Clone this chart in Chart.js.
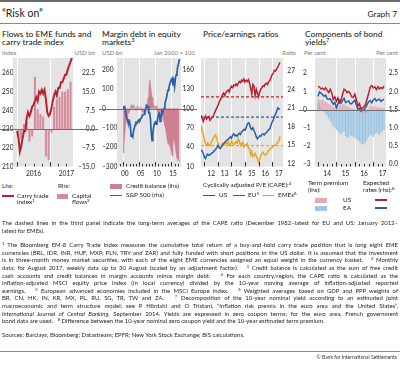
<!DOCTYPE html>
<html>
<head>
<meta charset="utf-8">
<title>Risk on</title>
<script src="https://cdn.jsdelivr.net/npm/chart.js@4.4.1/dist/chart.umd.min.js"></script>
<style>
  html, body { margin: 0; padding: 0; }
  body { position: relative; width: 400px; height: 373px; overflow: hidden; background: #fff;
         font-family: Lato, 'Open Sans', sans-serif; color: #1e1e1e; }
  .t { position: absolute; white-space: nowrap; }
  .ttl { position: absolute; font-size: 8.4px; line-height: 8px; white-space: nowrap; color: #111; }
  .unit { position: absolute; font-size: 6px; line-height: 7px; color: #7a7a7a; white-space: nowrap; }
  .lg { position: absolute; font-size: 6.4px; line-height: 6.7px; white-space: nowrap; color: #222; }
  .sw { position: absolute; }
  canvas { position: absolute; }
  .rule { position: absolute; left: 0; width: 400px; }
  .notes { position: absolute; left: 2px; width: 396px; font-size: 5.95px; line-height: 7.6px; color: #1e1e1e; }
  .notes div { text-align: justify; text-align-last: justify; height: 7.6px; overflow: hidden; }
  .notes div.last { text-align-last: left; }
  sup { font-size: 70%; line-height: 0; vertical-align: 0.45em; }
</style>
</head>
<body>

<div class="rule" style="top:0;height:2px;background:#6b6b6b"></div>
<div class="t" style="left:2px;top:7px;font-size:10.5px;color:#222">“Risk on”</div>
<div class="t" style="right:3px;top:9px;font-size:8.4px;color:#222">Graph 7</div>
<div class="rule" style="top:23px;height:1px;background:#8a8a8a"></div>

<!-- panel titles -->
<div class="ttl" style="left:2px;top:29.5px">Flows to EME funds and<br>carry trade index</div>
<div class="ttl" style="left:102px;top:29.5px">Margin debt in equity<br>markets<sup>3</sup></div>
<div class="ttl" style="left:203px;top:29.5px">Price/earnings ratios</div>
<div class="ttl" style="left:305px;top:29.5px">Components of bond<br>yields<sup>7</sup></div>

<!-- axis units -->
<div class="unit" style="left:2px;top:48.5px">Index</div>
<div class="unit" style="right:305px;top:48.5px">USD bn</div>
<div class="unit" style="left:102px;top:48.5px">USD bn</div>
<div class="unit" style="right:205px;top:48.5px">Jan 2000 = 100</div>
<div class="unit" style="right:104px;top:48.5px">Ratio</div>
<div class="unit" style="left:304px;top:48.5px">Per cent</div>
<div class="unit" style="right:2px;top:48.5px">Per cent</div>

<canvas id="p1" width="98" height="132" style="left:0;top:48px;width:98px;height:132px"></canvas>
<canvas id="p2" width="98" height="132" style="left:99px;top:48px;width:98px;height:132px"></canvas>
<canvas id="p3" width="98" height="132" style="left:199px;top:48px;width:98px;height:132px"></canvas>
<canvas id="p4" width="101" height="132" style="left:299px;top:48px;width:101px;height:132px"></canvas>

<!-- legends -->
<div class="lg" style="left:2px;top:183.3px">Lhs:</div>
<div class="lg" style="left:58px;top:183.3px">Rhs:</div>
<div class="sw" style="left:2px;top:195.2px;width:12px;height:1.6px;background:#b5232e"></div>
<div class="lg" style="left:17px;top:192.6px">Carry trade<br>index<sup>1</sup></div>
<div class="sw" style="left:57px;top:193.5px;width:11px;height:5px;background:#d78a9c"></div>
<div class="lg" style="left:72px;top:192.6px">Capital<br>flows<sup>2</sup></div>

<div class="sw" style="left:110px;top:183.5px;width:12px;height:5px;background:#cf7f92"></div>
<div class="lg" style="left:126px;top:182.6px">Credit balance (lhs)</div>
<div class="sw" style="left:110px;top:194.7px;width:12px;height:1.6px;background:#2a5ea8"></div>
<div class="lg" style="left:126px;top:192.1px">S&amp;P 500 (rhs)</div>

<div class="lg" style="left:203px;top:182.1px">Cyclically adjusted P/E (CAPE):<sup>4</sup></div>
<div class="sw" style="left:203px;top:194.7px;width:12px;height:1.6px;background:#b5232e"></div>
<div class="lg" style="left:219px;top:192.1px">US</div>
<div class="sw" style="left:233px;top:194.7px;width:12px;height:1.6px;background:#2a5ea8"></div>
<div class="lg" style="left:248px;top:192.1px">EU<sup>5</sup></div>
<div class="sw" style="left:262px;top:194.7px;width:12px;height:1.6px;background:#eba420"></div>
<div class="lg" style="left:278px;top:192.1px">EMEs<sup>6</sup></div>

<div class="lg" style="left:308px;top:180.3px">Term premium<br>(lhs):</div>
<div class="lg" style="left:363px;top:180.3px">Expected<br>rates (rhs):<sup>8</sup></div>
<div class="sw" style="left:315px;top:197.5px;width:12px;height:5px;background:#e6a9b8"></div>
<div class="lg" style="left:343px;top:196.6px">US</div>
<div class="sw" style="left:375px;top:199.2px;width:12px;height:1.6px;background:#b5232e"></div>
<div class="sw" style="left:315px;top:205.5px;width:12px;height:5px;background:#9cc8ea"></div>
<div class="lg" style="left:343px;top:204.8px">EA</div>
<div class="sw" style="left:375px;top:207.4px;width:12px;height:1.6px;background:#2a5ea8"></div>

<!-- notes -->
<div class="notes" style="top:219.2px">
  <div>The dashed lines in the third panel indicate the long-term averages of the CAPE ratio (December 1982–latest for EU and US; January 2012–</div>
  <div class="last">latest for EMEs).</div>
</div>
<div class="notes" style="top:241.2px">
  <div><sup>1</sup> The Bloomberg EM-8 Carry Trade Index measures the cumulative total return of a buy-and-hold carry trade position that is long eight EME</div>
  <div>currencies (BRL, IDR, INR, HUF, MXP, PLN, TRY and ZAR) and fully funded with short positions in the US dollar. It is assumed that the investment</div>
  <div>is in three-month money market securities, with each of the eight EME currencies assigned an equal weight in the currency basket. &nbsp; <sup>2</sup> Monthly</div>
  <div>data; for August 2017, weekly data up to 30 August (scaled by an adjustment factor). &nbsp; <sup>3</sup> Credit balance is calculated as the sum of free credit</div>
  <div>cash accounts and credit balances in margin accounts minus margin debt. &nbsp; <sup>4</sup> For each country/region, the CAPE ratio is calculated as the</div>
  <div>inflation-adjusted MSCI equity price index (in local currency) divided by the 10-year moving average of inflation-adjusted reported</div>
  <div>earnings. &nbsp; <sup>5</sup> European advanced economies included in the MSCI Europe index. &nbsp; <sup>6</sup> Weighted averages based on GDP and PPP weights of</div>
  <div>BR, CN, HK, IN, KR, MX, PL, RU, SG, TR, TW and ZA. &nbsp; <sup>7</sup> Decomposition of the 10-year nominal yield according to an estimated joint</div>
  <div>macroeconomic and term structure model; see P Hördahl and O Tristani, “Inflation risk premia in the euro area and the United States”,</div>
  <div><i>International Journal of Central Banking</i>, September 2014. Yields are expressed in zero coupon terms; for the euro area, French government</div>
  <div class="last">bond data are used. &nbsp; <sup>8</sup> Difference between the 10-year nominal zero coupon yield and the 10-year estimated term premium.</div>
</div>
<div class="notes" style="top:331.2px">
  <div class="last">Sources: Barclays; Bloomberg; Datastream; EPFR; New York Stock Exchange; BIS calculations.</div>
</div>
<div class="rule" style="top:351px;height:1px;background:#8a8a8a"></div>
<div class="t" style="right:3px;top:354px;font-size:5px;color:#333">© Bank for International Settlements</div>

<script>
// ============= Data =============

// Panel 1: carry trade index (half-monthly from Jan 2016) and monthly capital flows (USD bn)
const carryIndex = [229, 225, 218, 221, 225, 229, 229, 236, 239, 237, 239, 242, 243, 245, 247, 245, 250, 249, 251, 249,
    251, 246, 239, 237, 238, 241, 245, 248, 250, 248, 252, 252, 255, 255, 257, 259, 259, 262, 264, 266, 268];
const capitalFlows = [-3, -4, 2, 3, -5, -3, 21, 8, 6, 5, -11, -12.5, -1.5, 9, 12, 13, 15, 15, 16, 19];
const p1LhsTicks = [210, 220, 230, 240, 250, 260];
const p1RhsTicks = [-15, -7.5, 0, 7.5, 15, 22.5];
const p1XLabels = ['2016', '2017'];

// Panel 2: quarterly from 2000 Q1
const creditBalance = [-230, -190, -140, -90, -60, -45, -30, -25, -15, 0, 20, 15, 5, 20, 10, 0,
    -10, 5, 15, -5, 0, 10, 0, -10, -15, -25, -10, -20, -25, -10, 20, 60,
    100, 150, 125, 90, 60, 40, 20, 10, 5, 15, -5, -20, -25, -40, -5, -15,
    -30, -45, -60, -70, -90, -110, -140, -165, -185, -175, -195, -205, -225, -245, -185, -150,
    -175, -200, -235, -255, -270, -255, -280];
const sp500 = [100, 103, 103, 95, 87, 84, 79, 77, 80, 73, 57, 58, 56, 66, 70, 75,
    79, 79, 78, 82, 83, 82, 85, 86, 90, 90, 91, 97, 99, 105, 104, 103,
    93, 93, 84, 63, 50, 62, 71, 77, 79, 76, 77, 85, 92, 93, 80, 85,
    96, 93, 99, 100, 107, 113, 117, 124, 129, 133, 138, 142, 145, 147, 136, 143,
    134, 147, 152, 156, 166, 170, 177];
const p2LhsTicks = [-300, -200, -100, 0, 100, 200];
const p2RhsTicks = [10, 40, 70, 100, 130, 160];
const p2XLabels = ['00', '05', '10', '15'];

// Panel 3: monthly CAPE ratios from Oct 2011
const capeUS = [19.8, 19.4, 18.8, 19.3, 19.7, 19.2, 19.4, 19.6, 19.0, 19.3, 19.5, 19.7, 20.2, 20.6, 21.0, 21.4, 21.9, 22.3, 22.6, 23.1,
    23.4, 23.0, 23.5, 23.7, 23.9, 23.6, 24.2, 24.5, 24.3, 24.7, 24.6, 24.9, 24.6, 25.0, 25.3, 25.1, 25.5, 25.3, 25.7, 25.2,
    25.5, 25.3, 25.6, 25.0, 24.2, 23.3, 24.8, 24.5, 23.0, 24.0, 23.4, 22.8, 23.6, 24.0, 24.3, 24.6, 24.5, 24.9, 25.0, 24.8,
    25.3, 25.4, 25.9, 26.4, 26.6, 27.1, 27.0, 27.3, 27.6, 28.0, 28.4];
const capeEU = [14.2, 14.0, 13.6, 13.0, 12.8, 13.3, 13.5, 13.3, 13.4, 13.6, 13.7, 13.9, 14.1, 14.3, 14.5, 14.9, 14.6, 14.4, 14.7, 15.0,
    15.2, 15.4, 15.6, 15.8, 15.9, 16.1, 16.3, 16.1, 16.6, 16.8, 16.5, 16.6, 16.4, 16.7, 16.9, 16.7, 17.1, 17.3, 17.5, 17.4,
    17.8, 18.3, 18.6, 18.4, 17.7, 17.5, 17.8, 17.3, 16.9, 16.3, 16.0, 16.2, 16.5, 16.4, 16.7, 16.8, 16.6, 16.9, 17.0, 17.2,
    17.5, 17.6, 18.2, 18.7, 19.0, 19.6, 20.0, 20.4, 21.0, 20.8, 20.9];
const capeEM = [18.2, 17.4, 16.7, 15.8, 15.2, 14.9, 15.3, 15.0, 14.9, 15.4, 15.8, 16.1, 16.4, 16.6, 16.0, 15.4, 14.9, 14.4, 14.7, 15.2,
    14.9, 15.1, 15.4, 15.2, 15.5, 15.0, 14.9, 15.6, 15.3, 15.1, 15.2, 15.5, 15.3, 16.0, 15.6, 14.9, 15.2, 15.4, 14.7, 14.9,
    15.1, 15.2, 14.5, 14.4, 13.4, 13.9, 13.1, 13.3, 13.6, 13.1, 12.8, 12.2, 12.6, 13.3, 13.6, 13.8, 13.5, 13.3, 13.4, 13.9,
    14.1, 14.3, 14.5, 14.6, 14.8, 14.9, 15.0, 15.2, 15.4, 15.7, 16.4];
const capeAverages = [22.8, 19.5, 14.9];   // US, EU, EMEs
const p3RhsTicks = [12, 15, 18, 21, 24, 27];
const p3XLabels = ['12', '13', '14', '15', '16', '17'];

// Panel 4: monthly from Jan 2014
const termPremiumUS = [0.58, 0.55, 0.52, 0.55, 0.48, 0.42, 0.38, 0.30, 0.28, 0.22, 0.12, 0.18, 0.10, 0.16, 0.25, 0.22, 0.28, 0.30, 0.22, 0.18,
    0.15, 0.10, 0.06, 0.05, 0.08, -0.02, -0.10, -0.08, -0.18, -0.15, -0.22, -0.25, -0.12, 0.05, 0.20, 0.22, 0.18, 0.20, 0.12, 0.16,
    0.10, 0.12, 0.06, 0.08];
const termPremiumEA = [0.35, 0.25, 0.12, 0.00, -0.12, -0.25, -0.35, -0.48, -0.62, -0.78, -0.90, -0.98, -1.12, -1.20, -1.30, -1.38, -1.25, -1.20, -1.45, -1.55,
    -1.48, -1.38, -1.45, -1.50, -1.55, -1.62, -1.70, -1.75, -1.85, -1.92, -1.88, -1.80, -1.65, -1.50, -1.38, -1.42, -1.48, -1.35, -1.28, -1.32,
    -1.40, -1.25, -1.20, -1.12];
const expectedUS = [2.14, 2.12, 2.07, 2.09, 2.05, 2.10, 2.03, 1.97, 2.06, 1.96, 1.78, 1.85, 1.73, 1.82, 1.69, 1.76, 1.92, 2.06, 2.03, 1.97,
    2.00, 1.95, 1.85, 1.84, 1.93, 1.78, 1.60, 1.67, 1.52, 1.55, 1.58, 1.65, 1.80, 1.95, 2.12, 2.16, 2.10, 2.13, 2.05, 2.13,
    2.07, 2.11, 2.08, 2.15];
const expectedEA = [1.86, 1.99, 1.95, 1.91, 1.87, 1.90, 1.80, 1.79, 1.80, 1.72, 1.65, 1.70, 1.56, 1.66, 1.76, 1.68, 1.75, 1.81, 1.70, 1.72,
    1.74, 1.66, 1.67, 1.72, 1.76, 1.63, 1.51, 1.54, 1.46, 1.49, 1.51, 1.56, 1.64, 1.72, 1.75, 1.69, 1.77, 1.81, 1.74, 1.77,
    1.79, 1.73, 1.76, 1.79];
const p4LhsTicks = [-3, -2, -1, 0, 1, 2];
const p4RhsTicks = [0, 0.5, 1, 1.5, 2, 2.5];
const p4XLabels = ['14', '15', '16', '17'];

// ============= Helpers =============
const RED = '#b5232e', BLUE = '#2a5ea8', YELLOW = '#eba420';
const monthsFrom = (y, m, n, step = 1) => Array.from({ length: n }, (_, i) => y + (m - 1 + i * step) / 12);
const pts = (xs, ys) => ys.map((y, i) => ({ x: xs[i], y }));
const fmt = d => v => (v < 0 ? '–' : '') + Math.abs(v).toFixed(d);
const tickFont = { family: 'Lato', size: 6.6 };

Chart.defaults.font.family = 'Lato';

const bisFrame = {
    id: 'bisFrame',
    beforeDraw(chart, args, o) {
        const { ctx, chartArea: a, scales } = chart;
        ctx.save();
        ctx.fillStyle = '#e4e4e4';
        ctx.fillRect(a.left, a.top, a.right - a.left, a.bottom - a.top);
        ctx.strokeStyle = 'rgba(255,255,255,0.9)';
        ctx.lineWidth = 1;
        (o.grid || []).forEach(v => {
            const x = Math.round(scales.x.getPixelForValue(v)) + 0.5;
            ctx.beginPath(); ctx.moveTo(x, a.top); ctx.lineTo(x, a.bottom); ctx.stroke();
        });
        ctx.restore();
    },
    afterDatasetsDraw(chart, args, o) {
        const { ctx, chartArea: a, scales } = chart;
        ctx.save();
        if (o.zero) {
            const y = Math.round(scales[o.zero].getPixelForValue(0)) + 0.5;
            ctx.strokeStyle = '#6f6f6f';
            ctx.lineWidth = 1;
            ctx.beginPath(); ctx.moveTo(0, y); ctx.lineTo(chart.width, y); ctx.stroke();
        }
        ctx.strokeStyle = '#333';
        ctx.lineWidth = 1;
        const tick = (v, len) => {
            const x = Math.round(scales.x.getPixelForValue(v)) + 0.5;
            ctx.beginPath(); ctx.moveTo(x, a.bottom); ctx.lineTo(x, a.bottom - len); ctx.stroke();
        };
        (o.major || []).forEach(v => tick(v, 4.5));
        (o.minor || []).forEach(v => tick(v, 2.5));
        ctx.restore();
    }
};
Chart.register(bisFrame);

function yAxis(position, min, max, values, width, format) {
    return {
        type: 'linear', position, min, max, bounds: 'data',
        grid: { display: false, drawTicks: false }, border: { display: false },
        afterBuildTicks: s => { s.ticks = values.map(v => ({ value: v })); },
        afterFit: s => { s.width = width; },
        ticks: { font: tickFont, color: '#222', padding: 0, crossAlign: 'far', autoSkip: false, callback: v => format(v) }
    };
}

function xAxis(min, max, labelAt, labels) {
    return {
        type: 'linear', min, max, offset: false, bounds: 'data',
        grid: { display: false, drawTicks: false }, border: { display: false },
        afterBuildTicks: s => { s.ticks = labelAt.map(v => ({ value: v })); },
        afterFit: s => { s.height = 13.5; },
        ticks: { font: tickFont, color: '#222', padding: 3, maxRotation: 0, autoSkip: false, callback: (v, i) => labels[i] }
    };
}

function makePanel(id, datasets, scales, frame, padding) {
    return new Chart(document.getElementById(id), {
        type: 'line',
        data: { datasets },
        options: {
            responsive: false, animation: false, devicePixelRatio: 1,
            layout: { padding: Object.assign({ top: 10, bottom: 0 }, padding) },
            elements: { point: { radius: 0 }, line: { tension: 0 } },
            plugins: { legend: { display: false }, tooltip: { enabled: false }, bisFrame: frame },
            scales
        }
    });
}

const lineDs = (data, color, axis, extra) => Object.assign({
    type: 'line', data, yAxisID: axis, borderColor: color, borderWidth: 1.5, pointRadius: 0, fill: false
}, extra || {});

// ============= Panel 1 =============
const carryX = monthsFrom(2016, 1, carryIndex.length, 0.5);
const flowX = monthsFrom(2016, 1, capitalFlows.length).map(x => x + 1 / 24);
makePanel('p1', [
    lineDs(pts(carryX, carryIndex), RED, 'y', { borderWidth: 2 }),
    { type: 'bar', data: pts(flowX, capitalFlows), yAxisID: 'y1', backgroundColor: '#d78a9c',
      barPercentage: 1, categoryPercentage: 0.75 }
], {
    x: xAxis(2015.875, 2017.70, [2016.5, 2017.5], p1XLabels),
    y: yAxis('left', 210, 268, p1LhsTicks, 11, fmt(0)),
    y1: yAxis('right', -15, 28.5, p1RhsTicks, 22, fmt(1))
}, { zero: 'y1', grid: [2016, 2017], major: [2016, 2017], minor: [2016.25, 2016.5, 2016.75, 2017.25, 2017.5] },
   { left: 2, right: 3 });

// ============= Panel 2 =============
const quarterX = monthsFrom(2000, 1, sp500.length, 3);
makePanel('p2', [
    lineDs(pts(quarterX, sp500), BLUE, 'y1', { borderWidth: 1.7 }),
    lineDs(pts(quarterX, creditBalance), '#cf7f92', 'y', { borderWidth: 0.6, backgroundColor: '#cf7f92', fill: 'origin' })
], {
    x: xAxis(1998.1, 2018.0, [2000.5, 2005.5, 2010.5, 2015.5], p2XLabels),
    y: yAxis('left', -300, 262, p2LhsTicks, 15, fmt(0)),
    y1: yAxis('right', 10, 178.6, p2RhsTicks, 13, fmt(0))
}, { zero: 'y', grid: [2000, 2005, 2010, 2015], major: [2000, 2005, 2010, 2015],
     minor: [1999, 2001, 2002, 2003, 2004, 2006, 2007, 2008, 2009, 2011, 2012, 2013, 2014, 2016, 2017] },
   { left: 3, right: 3 });

// ============= Panel 3 =============
const capeX = monthsFrom(2011, 10, capeUS.length);
const p3Min = 2011.75, p3Max = 2017.806;
const avgLine = v => [{ x: p3Min, y: v }, { x: p3Max, y: v }];
makePanel('p3', [
    lineDs(pts(capeX, capeUS), RED, 'y'),
    lineDs(pts(capeX, capeEU), BLUE, 'y'),
    lineDs(pts(capeX, capeEM), YELLOW, 'y'),
    lineDs(avgLine(capeAverages[0]), RED, 'y', { borderWidth: 1.2, borderDash: [3, 2] }),
    lineDs(avgLine(capeAverages[1]), BLUE, 'y', { borderWidth: 1.2, borderDash: [3, 2] }),
    lineDs(avgLine(capeAverages[2]), YELLOW, 'y', { borderWidth: 1.2, borderDash: [3, 2] })
], {
    x: xAxis(p3Min, p3Max, [2012.5, 2013.5, 2014.5, 2015.5, 2016.5, 2017.5], p3XLabels),
    y: yAxis('right', 11.5, 29.1, p3RhsTicks, 12, fmt(0))
}, { grid: [2012, 2013, 2014, 2015, 2016, 2017], major: [2012, 2013, 2014, 2015, 2016, 2017] },
   { left: 2, right: 2 });

// ============= Panel 4 =============
const p4X = monthsFrom(2014, 1, expectedUS.length);
makePanel('p4', [
    lineDs(pts(p4X, expectedUS), RED, 'y1'),
    lineDs(pts(p4X, expectedEA), BLUE, 'y1'),
    { type: 'bar', data: pts(p4X, termPremiumUS), yAxisID: 'y', backgroundColor: 'rgba(226,150,170,0.75)',
      grouped: false, barPercentage: 1, categoryPercentage: 0.8 },
    { type: 'bar', data: pts(p4X, termPremiumEA), yAxisID: 'y', backgroundColor: 'rgba(130,185,230,0.75)',
      grouped: false, barPercentage: 1, categoryPercentage: 0.8 }
], {
    x: xAxis(2013.84, 2017.69, [2014.5, 2015.5, 2016.5, 2017.5], p4XLabels),
    y: yAxis('left', -3.12, 2.84, p4LhsTicks, 12, fmt(0)),
    y1: yAxis('right', -0.06, 2.92, p4RhsTicks, 12, fmt(1))
}, { zero: 'y', grid: [2015, 2016, 2017], major: [2014, 2015, 2016, 2017],
     minor: [2014.25, 2014.5, 2014.75, 2015.25, 2015.5, 2015.75, 2016.25, 2016.5, 2016.75, 2017.25, 2017.5] },
   { left: 4, right: 2 });
</script>
</body>
</html>
